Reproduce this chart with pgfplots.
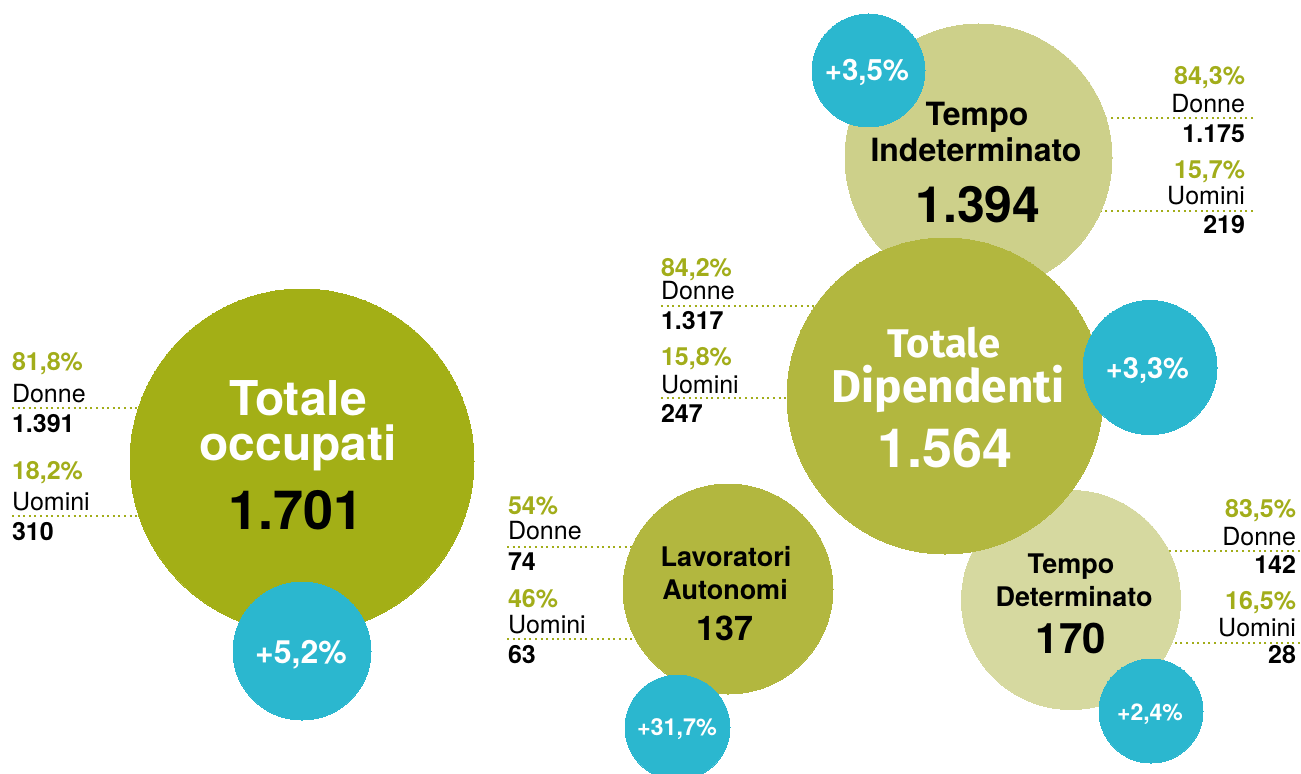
\documentclass[border=0pt]{standalone}
\usepackage{fontspec}
\setmainfont{TeX Gyre Heros}
\newfontfamily\dipfont{Fira Sans}
\usepackage{pgfplots}
\usepackage{pgfplotstable}
\pgfplotsset{compat=1.18}
\tikzset{every node/.append style={inner sep=0pt, outer sep=0pt}}
\definecolor{occ}{HTML}{A3AF16}
\definecolor{mid}{HTML}{B2B73F}
\definecolor{ti}{HTML}{CDD08A}
\definecolor{td}{HTML}{D6D9A0}
\definecolor{blu}{HTML}{2BB7CF}
\definecolor{pct}{HTML}{A2AD1A}

% bubbles: centre x, centre y (pixels from top), radius (pixels)
\pgfplotstableread{
x y r
978.5 157.5 133.5
}\tiTable
\pgfplotstableread{
x y r
1071 600 109.5
}\tdTable
\pgfplotstableread{
x y r
945 396 158
728 589 105
}\midTable
\pgfplotstableread{
x y r
302 461 172
}\occTable
\pgfplotstableread{
x y r
302 651 69
868.5 70.5 56.5
1150 367.5 67
677.5 727.5 52.5
1151 711 52
}\bluTable

\pgfplotsset{
  bubble/.style={scatter, only marks, mark=*, scatter src=y,
    scatter/use mapped color={draw=#1, fill=#1, line width=0pt},
    visualization depends on={0.5*\thisrow{r} \as \rad},
    scatter/@pre marker code/.append style={/tikz/mark size=\rad}},
  leader/.style={pct, line width=1pt, dash pattern=on 1pt off 1.8pt, no marks},
}
\newcommand{\fs}[1]{\fontsize{#1}{#1}\selectfont}
\newcommand{\sfs}{\fs{12.5}}

\begin{document}
\begin{tikzpicture}
\begin{axis}[
  x=0.5pt, y=0.5pt, y dir=reverse,
  xmin=0, xmax=1301, ymin=0, ymax=773,
  hide axis, clip=true, set layers,
]
% leader lines (drawn first, circles cover their inner ends)
\addplot[leader] coordinates {(12,408) (300,408)};
\addplot[leader] coordinates {(12,516) (300,516)};
\addplot[leader] coordinates {(1253,118) (980,118)};
\addplot[leader] coordinates {(1253,211) (980,211)};
\addplot[leader] coordinates {(661,306) (945,306)};
\addplot[leader] coordinates {(661,398) (945,398)};
\addplot[leader] coordinates {(507,547) (728,547)};
\addplot[leader] coordinates {(507,639) (728,639)};
\addplot[leader] coordinates {(1300,551) (1071,551)};
\addplot[leader] coordinates {(1300,643) (1071,643)};

% bubbles
\addplot[bubble=ti] table {\tiTable};
\addplot[bubble=td] table {\tdTable};
\addplot[bubble=mid] table {\midTable};
\addplot[bubble=occ] table {\occTable};
\addplot[bubble=blu] table {\bluTable};

\begin{pgfonlayer}{axis foreground}
% Totale occupati
\node[anchor=base, text=white, font=\fs{24}\bfseries] at (axis cs:298,415) {Totale};
\node[anchor=base, text=white, font=\fs{24}\bfseries] at (axis cs:298,460) {occupati};
\node[anchor=base, text=black, font=\fs{27}\bfseries] at (axis cs:296,529) {1.701};
% Tempo Indeterminato
\node[anchor=base, font=\fs{16}\bfseries] at (axis cs:977,126) {Tempo};
\node[anchor=base, font=\fs{16}\bfseries] at (axis cs:976,162) {Indeterminato};
\node[anchor=base, font=\fs{25}\bfseries] at (axis cs:978,222) {1.394};
% Totale Dipendenti
\node[anchor=base, text=white, font=\dipfont\fs{20}\bfseries] at (axis cs:944,357) {Totale};
\node[anchor=base, text=white, font=\dipfont\fs{23}\bfseries] at (axis cs:948,402) {Dipendenti};
\node[anchor=base, text=white, font=\fs{27}\bfseries] at (axis cs:945,467) {1.564};
% Lavoratori Autonomi
\node[anchor=base, font=\fs{13.5}\bfseries] at (axis cs:726,566) {Lavoratori};
\node[anchor=base, font=\fs{13.5}\bfseries] at (axis cs:725,599) {Autonomi};
\node[anchor=base, font=\fs{17}\bfseries] at (axis cs:725,640) {137};
% Tempo Determinato
\node[anchor=base, font=\fs{13.5}\bfseries] at (axis cs:1071,573) {Tempo};
\node[anchor=base, font=\fs{13.5}\bfseries] at (axis cs:1074,606) {Determinato};
\node[anchor=base, font=\fs{21}\bfseries] at (axis cs:1071,653) {170};

% variations
\node[anchor=base, text=white, font=\fs{16}\bfseries] at (axis cs:301,663) {+5,2\%};
\node[anchor=base, text=white, font=\fs{14.7}\bfseries] at (axis cs:867,81) {+3,5\%};
\node[anchor=base, text=white, font=\fs{14.5}\bfseries] at (axis cs:1147.5,378) {+3,3\%};
\node[anchor=base, text=white, font=\fs{11.7}\bfseries] at (axis cs:677,735) {+31,7\%};
\node[anchor=base, text=white, font=\fs{11.5}\bfseries] at (axis cs:1150,720) {+2,4\%};

% side labels: Totale occupati
\node[anchor=base west, text=pct, font=\sfs\bfseries] at (axis cs:12,370) {81,8\%};
\node[anchor=base west, font=\sfs] at (axis cs:12,402) {Donne};
\node[anchor=base west, font=\sfs\bfseries] at (axis cs:12,432) {1.391};
\node[anchor=base west, text=pct, font=\sfs\bfseries] at (axis cs:12,479) {18,2\%};
\node[anchor=base west, font=\sfs] at (axis cs:12,510) {Uomini};
\node[anchor=base west, font=\sfs\bfseries] at (axis cs:12,540) {310};
% side labels: Tempo Indeterminato
\node[anchor=base east, text=pct, font=\sfs\bfseries] at (axis cs:1245,85) {84,3\%};
\node[anchor=base east, font=\sfs] at (axis cs:1245,112) {Donne};
\node[anchor=base east, font=\sfs\bfseries] at (axis cs:1245,142) {1.175};
\node[anchor=base east, text=pct, font=\sfs\bfseries] at (axis cs:1245,178) {15,7\%};
\node[anchor=base east, font=\sfs] at (axis cs:1245,204) {Uomini};
\node[anchor=base east, font=\sfs\bfseries] at (axis cs:1245,233) {219};
% side labels: Totale Dipendenti
\node[anchor=base west, text=pct, font=\sfs\bfseries] at (axis cs:661,276) {84,2\%};
\node[anchor=base west, font=\sfs] at (axis cs:661,299) {Donne};
\node[anchor=base west, font=\sfs\bfseries] at (axis cs:661,329) {1.317};
\node[anchor=base west, text=pct, font=\sfs\bfseries] at (axis cs:661,365) {15,8\%};
\node[anchor=base west, font=\sfs] at (axis cs:661,393) {Uomini};
\node[anchor=base west, font=\sfs\bfseries] at (axis cs:661,422) {247};
% side labels: Lavoratori Autonomi
\node[anchor=base west, text=pct, font=\sfs\bfseries] at (axis cs:508,514) {54\%};
\node[anchor=base west, font=\sfs] at (axis cs:508,539) {Donne};
\node[anchor=base west, font=\sfs\bfseries] at (axis cs:508,570) {74};
\node[anchor=base west, text=pct, font=\sfs\bfseries] at (axis cs:508,607) {46\%};
\node[anchor=base west, font=\sfs] at (axis cs:508,633) {Uomini};
\node[anchor=base west, font=\sfs\bfseries] at (axis cs:508,663) {63};
% side labels: Tempo Determinato
\node[anchor=base east, text=pct, font=\sfs\bfseries] at (axis cs:1296,517) {83,5\%};
\node[anchor=base east, font=\sfs] at (axis cs:1296,545) {Donne};
\node[anchor=base east, font=\sfs\bfseries] at (axis cs:1296,573) {142};
\node[anchor=base east, text=pct, font=\sfs\bfseries] at (axis cs:1296,609) {16,5\%};
\node[anchor=base east, font=\sfs] at (axis cs:1296,636) {Uomini};
\node[anchor=base east, font=\sfs\bfseries] at (axis cs:1296,663) {28};
\end{pgfonlayer}
\end{axis}
\pgfresetboundingbox
\path[use as bounding box] (current axis.south west) rectangle (current axis.north east);
\end{tikzpicture}
\end{document}
